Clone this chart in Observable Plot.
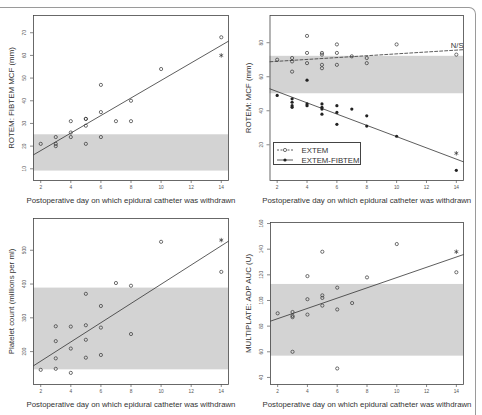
<!DOCTYPE html>
<html><head><meta charset="utf-8">
<script src="https://cdn.jsdelivr.net/npm/d3@7"></script>
<script src="https://cdn.jsdelivr.net/npm/@observablehq/plot@0.6"></script>
<style>
body{margin:0;background:#fff;}
#wrap{position:relative;width:482px;height:415px;overflow:hidden;font-family:"Liberation Sans",Arial,sans-serif;}
.panel{position:absolute;}
#border{position:absolute;left:-20px;top:7px;width:495px;height:430px;border-top:1px solid #9a9a9a;border-right:1px solid #9a9a9a;border-top-right-radius:7px;}
.legend{position:absolute;border:0.8px solid #444;background:#fff;box-sizing:border-box;}
</style></head><body><div id="wrap"><div id="border"></div></div>
<script>
// ---------- shared axis data ----------
const xTicks = [2, 4, 6, 8, 10, 12, 14];
const xTitle = "Postoperative day on which epidural catheter was withdrawn";

// ---------- Panel A: ROTEM FIBTEM MCF ----------
const fibtemDay = [2,3,3,3,4,4,4,5,5,5,5,6,6,6,7,8,8,10,14];
const fibtemMCF = [21,24,21,20,31,26,24,32,32,29,21,47,35,24,31,40,31,54,68];
const fibtemStarDay = [14];
const fibtemStarMCF = [60];
const fibtemNormal = [9, 25];
const fibtemFit = [10.28, 3.868];           // intercept, slope
const fibtemTicks = [10, 20, 30, 40, 50, 60, 70];

// ---------- Panel B: ROTEM MCF (EXTEM, EXTEM-FIBTEM) ----------
const extemDay = [2,3,3,3,4,4,4,5,5,5,5,6,6,6,7,8,8,10,14];
const extemMCF = [70,71,69,63,84,74,68,74,73,67,65,79,74,67,72,71,68,79,73];
const diffDay = [2,3,3,3,3,4,4,4,5,5,5,5,6,6,6,7,8,8,10,14];
const diffMCF = [49,47,45,43,42,58,44,43,44,42,41,38,43,39,32,41,37,31,25,5];
const diffStarDay = [14];
const diffStarMCF = [15];
const mcfNormal = [50, 72];
const extemFit = [67.97, 0.548];
const diffFit = [57.9, -3.31];
const mcfTicks = [20, 40, 60, 80];

// ---------- Panel C: Platelet count ----------
const plateletDay = [2,3,3,3,3,4,4,4,5,5,5,5,6,6,6,7,8,8,10,14];
const plateletCount = [146,275,231,180,149,274,209,137,371,278,235,182,335,271,190,403,395,252,525,436];
const plateletStarDay = [14];
const plateletStarCount = [530];
const plateletNormal = [146, 388];
const plateletFit = [114.7, 28.47];
const plateletTicks = [200, 300, 400, 500];

// ---------- Panel D: Multiplate ADP AUC ----------
const adpDay = [2,3,3,3,3,4,4,4,5,5,5,5,6,6,6,7,8,10,14];
const adpAUC = [90,91,88,87,60,119,101,89,138,104,102,96,110,93,47,98,118,144,122];
const adpStarDay = [14];
const adpStarAUC = [138];
const adpNormal = [56.6, 112.5];
const adpFit = [77.81, 4.005];
const adpTicks = [40, 60, 80, 100, 120, 140, 160];

// ---------- helpers ----------
const font = "'Liberation Sans', Arial, Helvetica, sans-serif";
const xDomain = [1.52, 14.48];
const ink = "#333";
const table = (xs, ys) => xs.map((x, i) => ({x, y: ys[i]}));
const fitLine = ([a, b]) => xDomain.map(x => ({x, y: a + b * x}));

function panel({left, top, margin, yDomain, yTicks, yTitle, band, layers}) {
  const [mt, mr, mb, ml] = margin;
  const chart = Plot.plot({
    width: 241, height: 208,
    marginTop: mt, marginRight: mr, marginBottom: mb, marginLeft: ml,
    x: {domain: xDomain},
    y: {domain: yDomain},
    style: {fontFamily: font, background: "transparent", overflow: "visible", color: ink},
    marks: [
      Plot.rect([band], {y1: d => d[0], y2: d => d[1], fill: "#d3d3d3"}),
      ...layers,
      Plot.frame({stroke: "#444", strokeWidth: 0.8}),
      Plot.axisX(xTicks, {tickSize: 3, tickPadding: 2, fontSize: 4.8, color: "#555", strokeWidth: 0.7, label: null}),
      Plot.axisY(yTicks, {tickSize: 3, tickPadding: 4.5, tickRotate: -90, fontSize: 4.8, color: "#555", strokeWidth: 0.7, label: null}),
      Plot.text([xTitle], {text: d => d, frameAnchor: "bottom", dy: 20, textAnchor: "middle", lineAnchor: "middle", fontSize: 7.8, fill: "#333"}),
      Plot.text([yTitle], {text: d => d, frameAnchor: "left", dx: -22, rotate: -90, textAnchor: "middle", lineAnchor: "middle", fontSize: 7.9, fill: "#333"})
    ]
  });
  const div = document.createElement("div");
  div.className = "panel";
  div.style.left = left + "px";
  div.style.top = top + "px";
  div.appendChild(chart);
  document.getElementById("wrap").appendChild(div);
  return div;
}

const openDots = (xs, ys) => Plot.dot(table(xs, ys), {x: "x", y: "y", r: 1.6, stroke: ink, strokeWidth: 0.7, fill: "none"});
const filledDots = (xs, ys) => Plot.dot(table(xs, ys), {x: "x", y: "y", r: 1.6, fill: "#222", stroke: "none"});
const stars = (xs, ys) => Plot.dot(table(xs, ys), {x: "x", y: "y", r: 2.1, symbol: "asterisk", stroke: ink, strokeWidth: 0.7});
const fit = (coef, dash) => Plot.line(fitLine(coef), {x: "x", y: "y", stroke: ink, strokeWidth: 0.8, strokeDasharray: dash});

// Panel A
panel({
  left: 0, top: 0, margin: [15, 13, 28, 33],
  yDomain: [4.84, 77.6], yTicks: fibtemTicks, yTitle: "ROTEM: FIBTEM MCF (mm)", band: fibtemNormal,
  layers: [fit(fibtemFit), openDots(fibtemDay, fibtemMCF), stars(fibtemStarDay, fibtemStarMCF)]
});

// Panel B
const pB = panel({
  left: 241, top: 0, margin: [15, 19, 28, 28.5],
  yDomain: [-1, 96], yTicks: mcfTicks, yTitle: "ROTEM: MCF (mm)", band: mcfNormal,
  layers: [
    fit(extemFit, "3,2"), fit(diffFit),
    openDots(extemDay, extemMCF), filledDots(diffDay, diffMCF), stars(diffStarDay, diffStarMCF),
    Plot.text(["N/S"], {text: d => d, frameAnchor: "top-right", dy: 30.5, textAnchor: "end", lineAnchor: "middle", fontSize: 7.6, fill: "#333"})
  ]
});

// Legend for panel B
const legendItems = [
  {label: "EXTEM", dash: "2,1.5", fill: "none"},
  {label: "EXTEM-FIBTEM", dash: null, fill: "#222"}
];
const lg = document.createElement("div");
lg.className = "legend";
Object.assign(lg.style, {left: "32px", top: "142px", width: "88px", height: "22.5px"});
const ns = "http://www.w3.org/2000/svg";
const lsvg = document.createElementNS(ns, "svg");
lsvg.setAttribute("width", 88); lsvg.setAttribute("height", 22);
lsvg.style.position = "absolute"; lsvg.style.left = "0"; lsvg.style.top = "0";
legendItems.forEach((it, i) => {
  const cy = 7 + i * 10;
  const ln = document.createElementNS(ns, "line");
  ln.setAttribute("x1", 3); ln.setAttribute("x2", 19); ln.setAttribute("y1", cy); ln.setAttribute("y2", cy);
  ln.setAttribute("stroke", ink); ln.setAttribute("stroke-width", 0.8);
  if (it.dash) ln.setAttribute("stroke-dasharray", it.dash);
  lsvg.appendChild(ln);
  const c = document.createElementNS(ns, "circle");
  c.setAttribute("cx", 11); c.setAttribute("cy", cy); c.setAttribute("r", 1.6);
  c.setAttribute("fill", it.fill === "none" ? "#fff" : it.fill);
  c.setAttribute("stroke", it.fill === "none" ? ink : "none"); c.setAttribute("stroke-width", 0.7);
  lsvg.appendChild(c);
  const t = document.createElementNS(ns, "text");
  t.setAttribute("x", 27.5); t.setAttribute("y", cy); t.setAttribute("dy", "0.35em");
  t.setAttribute("font-size", 7.8); t.setAttribute("font-family", font); t.setAttribute("fill", "#333");
  t.textContent = it.label;
  lsvg.appendChild(t);
});
lg.appendChild(lsvg);
pB.appendChild(lg);

// Panel C
panel({
  left: 0, top: 208, margin: [10, 13, 32, 33],
  yDomain: [102.6, 594], yTicks: plateletTicks, yTitle: "Platelet count (millions per ml)", band: plateletNormal,
  layers: [fit(plateletFit), openDots(plateletDay, plateletCount), stars(plateletStarDay, plateletStarCount)]
});

// Panel D
panel({
  left: 241, top: 208, margin: [14, 19, 32, 29],
  yDomain: [34.5, 160.8], yTicks: adpTicks, yTitle: "MULTIPLATE: ADP AUC (U)", band: adpNormal,
  layers: [fit(adpFit), openDots(adpDay, adpAUC), stars(adpStarDay, adpStarAUC)]
});
</script>
</body></html>
